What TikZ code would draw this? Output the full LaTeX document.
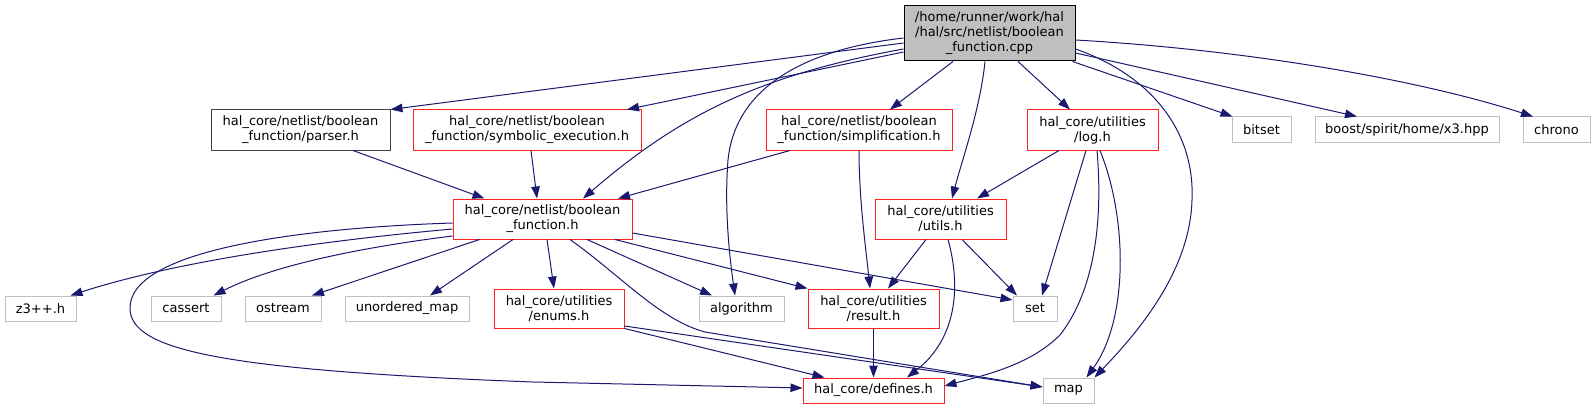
\documentclass[tikz,border=0pt]{standalone}
\usepackage{fontspec}
\setmainfont{DejaVu Sans}
\usetikzlibrary{arrows.meta}
\definecolor{edgeblue}{HTML}{191970}
\definecolor{greyline}{HTML}{BFBFBF}
\definecolor{darkline}{HTML}{404040}
\definecolor{mainfill}{HTML}{BFBFBF}
\definecolor{nodered}{HTML}{FF2020}
\newcommand{\dfont}{\fontsize{13}{15}\selectfont}
\tikzset{
  box/.style={draw, line width=1pt, minimum height=40pt, inner sep=0pt, align=center, font=\dfont},
  mainbox/.style={box, draw=black, fill=mainfill, minimum height=55pt},
  blackbox/.style={box, draw=darkline},
  redbox/.style={box, draw=nodered},
  greybox/.style={box, draw=greyline, minimum height=25pt},
  edge/.style={draw=edgeblue, line width=1pt, -{Triangle[length=12pt,width=8.5pt,fill=edgeblue]}}
}
\begin{document}
\begin{tikzpicture}[x=1pt,y=-1pt]
\useasboundingbox (0,0) rectangle (1595,409);
% nodes
\node[mainbox, minimum width=171pt] (main) at (989.5,33.5) {/home/runner/work/hal\\/hal/src/netlist/boolean\\\_function.cpp};
\node[blackbox, minimum width=179pt] (parser) at (300.5,130) {hal\_core/netlist/boolean\\\_function/parser.h};
\node[redbox, minimum width=228pt] (symexec) at (527,130) {hal\_core/netlist/boolean\\\_function/symbolic\_execution.h};
\node[redbox, minimum width=186pt] (simpl) at (859,130) {hal\_core/netlist/boolean\\\_function/simplification.h};
\node[redbox, minimum width=131pt] (log) at (1092.5,130) {hal\_core/utilities\\/log.h};
\node[greybox, minimum width=59pt, minimum height=26pt] (bitset) at (1261.5,130) {bitset};
\node[greybox, minimum width=184pt, minimum height=26pt] (x3) at (1407,130) {boost/spirit/home/x3.hpp};
\node[greybox, minimum width=67pt, minimum height=26pt] (chrono) at (1556.5,130) {chrono};
\node[redbox, minimum width=179pt] (boolfn) at (542.5,219) {hal\_core/netlist/boolean\\\_function.h};
\node[redbox, minimum width=131pt] (utils) at (940.5,219) {hal\_core/utilities\\/utils.h};
\node[greybox, minimum width=71pt] (z3) at (40.5,308.5) {z3++.h};
\node[greybox, minimum width=70pt] (cassert) at (186,308.5) {cassert};
\node[greybox, minimum width=76pt] (ostream) at (283,308.5) {ostream};
\node[greybox, minimum width=124pt] (unord) at (407,308.5) {unordered\_map};
\node[redbox, minimum width=130pt, minimum height=39pt] (enums) at (559,308.5) {hal\_core/utilities\\/enums.h};
\node[greybox, minimum width=85pt] (algo) at (741.5,308.5) {algorithm};
\node[redbox, minimum width=131pt, minimum height=39pt] (result) at (873.5,308.5) {hal\_core/utilities\\/result.h};
\node[greybox, minimum width=44pt] (set) at (1035,308.5) {set};
\node[redbox, minimum width=141pt, minimum height=25pt] (defines) at (873.5,390.5) {hal\_core/defines.h};
\node[greybox, minimum width=51pt] (map) at (1068.5,390.5) {map};
% edges from main
\draw[edge] ([yshift=-9.5pt]main.west) -- (parser.north east);
\draw[edge] ([yshift=-18.5pt]main.west) -- ([xshift=100pt]symexec.north);
\draw[edge] ([yshift=-15.5pt]main.west) .. controls (760,75) and (680,115) .. ([xshift=40.5pt]boolfn.north);
\draw[edge] ([yshift=-4.5pt]main.west) .. controls (800,50) and (735,90) .. (728,160) .. controls (724,210) and (730,260) .. ([xshift=-6.5pt]algo.north);
\draw[edge] ([xshift=-36.5pt]main.south) -- ([xshift=31pt]simpl.north);
\draw[edge] ([xshift=-4.5pt]main.south) .. controls (980,110) and (962,160) .. ([xshift=11.5pt]utils.north);
\draw[edge] ([xshift=28.5pt]main.south) -- ([xshift=-22.5pt]log.north);
\draw[edge] ([xshift=-3pt]main.south east) -- ([xshift=1pt]bitset.north west);
\draw[edge] ([yshift=-19.5pt]main.east) -- ([xshift=-50pt]x3.north);
\draw[edge] ([yshift=-6.5pt]main.east) .. controls (1250,50) and (1420,80) .. ([xshift=-23.5pt]chrono.north);
\draw[edge] ([yshift=-15.5pt]main.east) .. controls (1150,75) and (1195,130) .. (1192,200) .. controls (1190,270) and (1140,330) .. (map.north east);
% second row
\draw[edge] ([xshift=52.5pt]parser.south) -- ([xshift=32pt]boolfn.north west);
\draw[edge] ([xshift=4pt]symexec.south) -- ([xshift=-5.5pt]boolfn.north);
\draw[edge] ([xshift=-69pt]simpl.south) -- ([xshift=75.5pt]boolfn.north);
\draw[edge] (simpl.south) .. controls (859,200) and (866,250) .. ([xshift=-3.5pt]result.north);
\draw[edge] ([xshift=-33.5pt]log.south) -- ([xshift=36.5pt]utils.north);
\draw[edge] ([xshift=-6.5pt]log.south) -- ([xshift=7pt]set.north);
\draw[edge] ([xshift=4.5pt]log.south) .. controls (1103,220) and (1095,290) .. (1060,335) .. controls (1030,365) and (985,375) .. ([yshift=4.5pt]defines.east);
\draw[edge] ([xshift=7.5pt]log.south) .. controls (1128,220) and (1128,320) .. ([xshift=18pt]map.north);
% utils
\draw[edge] ([xshift=-14.5pt]utils.south) -- ([xshift=14.5pt]result.north);
\draw[edge] ([xshift=21.5pt]utils.south) -- ([xshift=-18pt]set.north);
\draw[edge] ([xshift=7.5pt]utils.south) .. controls (962,290) and (955,340) .. ([xshift=33.5pt]defines.north);
% boolfn
\draw[edge] ([yshift=-10pt]boolfn.west) .. controls (330,240) and (180,260) .. ([xshift=-6pt]z3.north east);
\draw[edge] ([yshift=-17pt]boolfn.west) .. controls (380,245) and (280,262) .. ([xshift=-8pt]cassert.north east);
\draw[edge] ([xshift=27pt]boolfn.south west) -- ([xshift=29pt]ostream.north);
\draw[edge] ([xshift=-29.5pt]boolfn.south) -- ([xshift=23pt]unord.north);
\draw[edge] ([xshift=4.5pt]boolfn.south) -- ([xshift=-5pt]enums.north);
\draw[edge] ([xshift=44.5pt]boolfn.south) -- ([xshift=-29.5pt]algo.north);
\draw[edge] ([xshift=72.5pt]boolfn.south) -- (result.north west);
\draw[edge] ([yshift=-14pt]boolfn.east) -- ([yshift=8.5pt]set.west);
\draw[edge] ([xshift=27.5pt]boolfn.south) .. controls (620,275) and (660,320) .. (705,332) -- ([yshift=3.5pt]map.west);
\draw[edge] ([yshift=-4pt]boolfn.west) .. controls (300,228) and (130,250) .. (130,308) .. controls (130,350) and (220,370) .. (533,382) -- ([yshift=2.5pt]defines.west);
% enums, result
\draw[edge] (enums.south east) -- ([xshift=22pt]defines.north west);
\draw[edge] ([yshift=-17.5pt]enums.east) -- ([yshift=3.5pt]map.west);
\draw[edge] (result.south) -- (defines.north);
\end{tikzpicture}
\end{document}
